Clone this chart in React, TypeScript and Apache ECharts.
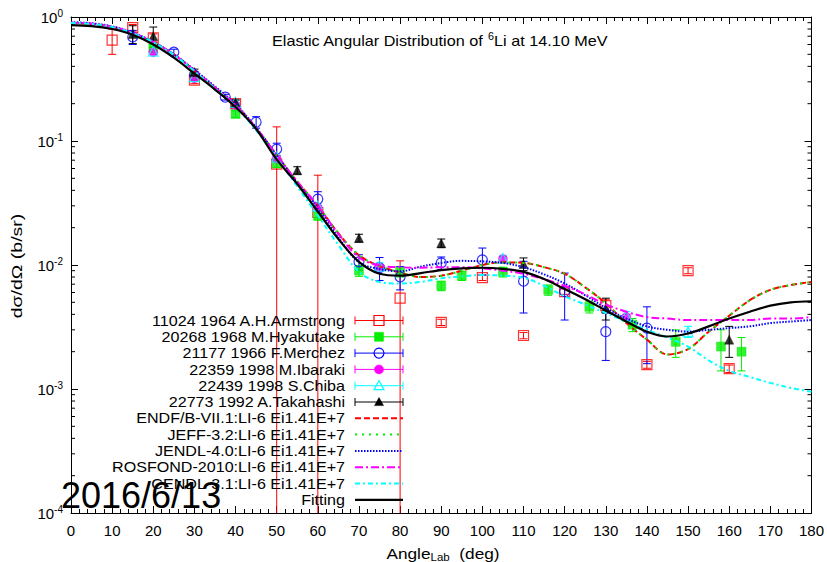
import React, { useEffect, useRef } from "react";
import * as echarts from "echarts";

const FONT = "'Liberation Sans', Arial, Helvetica, sans-serif";

// Measured elastic cross sections: [angle (deg), dσ/dΩ (b/sr), uncertainty (b/sr)]
const armstrong = [
  [10, 0.65, 0.15], [15, 0.82, 0.05], [20, 0.68, 0.05], [30, 0.31, 0.02], [40, 0.2, 0.012],
  [50, 0.065, 0.065], [60, 0.0265, 0.0265], [80, 0.0054, 0.0054], [90, 0.00345, 0.0002],
  [100, 0.0079, 0.0004], [110, 0.0027, 0.00016], [120, 0.0061, 0.0003], [130, 0.0047, 0.0006],
  [140, 0.00157, 0.0001], [150, 0.009, 0.0005], [160, 0.00146, 0.0001],
];
const hyakutake = [
  [20, 0.56, 0.04], [30, 0.33, 0.02], [40, 0.165, 0.01], [50, 0.066, 0.005], [60, 0.025, 0.002],
  [70, 0.009, 0.0009], [80, 0.0088, 0.0008], [90, 0.0068, 0.0006], [95, 0.0082, 0.0007],
  [105, 0.0088, 0.0008], [116, 0.0063, 0.0006], [126, 0.0046, 0.0005], [136.5, 0.0033, 0.0004],
  [147, 0.0024, 0.0006], [158, 0.0022, 0.0008], [163, 0.002, 0.0006],
];
const merchez = [
  [15, 0.69, 0.09], [25, 0.52, 0.03], [30, 0.34, 0.02], [37.5, 0.226, 0.012], [45, 0.142, 0.015],
  [50, 0.086, 0.01], [60, 0.034, 0.005], [70, 0.0106, 0.0015], [75, 0.0095, 0.002],
  [80, 0.008, 0.0017], [90, 0.0104, 0.0012], [100, 0.011, 0.0027], [110, 0.0074, 0.0033],
  [120, 0.0061, 0.0025], [130, 0.0029, 0.0012], [140, 0.0031, 0.0015],
];
const ibaraki = [
  [20, 0.52, 0.02], [30, 0.32, 0.012], [40, 0.195, 0.008], [50, 0.072, 0.003], [60, 0.029, 0.0012],
  [75, 0.0096, 0.0004], [105, 0.0112, 0.0005], [135, 0.0038, 0.0002],
];
const chiba = [
  [20, 0.53, 0.02], [30, 0.33, 0.012], [40, 0.205, 0.008], [50, 0.074, 0.003], [60, 0.03, 0.0012],
  [75, 0.0098, 0.0006], [105, 0.0113, 0.0006], [135, 0.0039, 0.0003], [150, 0.0029, 0.0003],
];
const takahashi = [
  [15, 0.73, 0.12], [20, 0.7, 0.13], [30, 0.36, 0.02], [40, 0.205, 0.01], [55, 0.058, 0.004],
  [70, 0.0165, 0.0012], [90, 0.015, 0.0012], [110, 0.0102, 0.0012], [130, 0.0045, 0.0009],
  [160, 0.0025, 0.0007],
];

// Evaluated libraries and the fit, sampled every 5 degrees
const curveAngles = [
  0, 5, 10, 15, 20, 25, 30, 35, 40, 45, 50, 55, 60, 65, 70, 75, 80, 85, 90,
  95, 100, 105, 110, 115, 120, 125, 130, 135, 140, 145, 150, 155, 160, 165, 170, 175, 180,
];
const endf = [
  0.895, 0.88, 0.83, 0.74, 0.625, 0.5, 0.37, 0.27, 0.195, 0.127, 0.077, 0.047, 0.03, 0.018, 0.012,
  0.0098, 0.0087, 0.008, 0.0082, 0.009, 0.01, 0.0105, 0.0104, 0.0096, 0.0085, 0.0066, 0.0049,
  0.0034, 0.0025, 0.0019, 0.0021, 0.0029, 0.0039, 0.0052, 0.0063, 0.0069, 0.0073,
];
const jeff = [
  0.895, 0.88, 0.83, 0.74, 0.625, 0.5, 0.37, 0.27, 0.195, 0.127, 0.077, 0.047, 0.03, 0.018, 0.012,
  0.0098, 0.0087, 0.008, 0.0082, 0.009, 0.01, 0.0105, 0.0104, 0.0096, 0.0085, 0.0066, 0.0049,
  0.0034, 0.0025, 0.0019, 0.0021, 0.0029, 0.0039, 0.0052, 0.0063, 0.0069, 0.0073,
];
const jendl = [
  0.91, 0.89, 0.84, 0.75, 0.63, 0.5, 0.375, 0.275, 0.198, 0.128, 0.077, 0.046, 0.029, 0.0167, 0.0105,
  0.0093, 0.0089, 0.0097, 0.0104, 0.0108, 0.0107, 0.0104, 0.0096, 0.0084, 0.0071, 0.0057, 0.0045,
  0.0037, 0.0032, 0.003, 0.0029, 0.003, 0.0031, 0.0032, 0.0034, 0.0035, 0.0036,
];
const rosfond = [
  0.9, 0.885, 0.835, 0.745, 0.63, 0.5, 0.37, 0.27, 0.195, 0.127, 0.077, 0.047, 0.03, 0.0178, 0.0115,
  0.0099, 0.0096, 0.0095, 0.0096, 0.0096, 0.0094, 0.009, 0.0085, 0.0077, 0.0068, 0.0058, 0.0048,
  0.0042, 0.0038, 0.0037, 0.0036, 0.0036, 0.0036, 0.0036, 0.0037, 0.0037, 0.0038,
];
const cendl = [
  0.895, 0.88, 0.83, 0.74, 0.625, 0.495, 0.365, 0.265, 0.19, 0.122, 0.073, 0.043, 0.025, 0.0145,
  0.0088, 0.0073, 0.0071, 0.0073, 0.0078, 0.0081, 0.0083, 0.0082, 0.0079, 0.0068, 0.0056, 0.0048,
  0.0041, 0.0035, 0.003, 0.0026, 0.0022, 0.0017, 0.0014, 0.00125, 0.00112, 0.00102, 0.00095,
];
const fitting = [
  0.86, 0.845, 0.8, 0.72, 0.6, 0.47, 0.35, 0.26, 0.188, 0.125, 0.071, 0.045, 0.027, 0.0162, 0.0106,
  0.0085, 0.0082, 0.0086, 0.0091, 0.0094, 0.0095, 0.0093, 0.0088, 0.0077, 0.0064, 0.0053, 0.0043,
  0.0035, 0.0029, 0.00265, 0.0028, 0.0032, 0.0037, 0.0042, 0.0047, 0.005, 0.0051,
];

const Y_MIN = 1e-4;
const Y_MAX = 1;

const experiments = [
  { name: "11024 1964 A.H.Armstrong", points: armstrong, color: "#ff0000", symbol: "rect", filled: false, size: 10 },
  { name: "20268 1968 M.Hyakutake", points: hyakutake, color: "#00ee00", symbol: "rect", filled: true, size: 9 },
  { name: "21177 1966 F.Merchez", points: merchez, color: "#0000ff", symbol: "circle", filled: false, size: 10 },
  { name: "22359 1998 M.Ibaraki", points: ibaraki, color: "#ff00ff", symbol: "circle", filled: true, size: 9 },
  { name: "22439 1998 S.Chiba", points: chiba, color: "#00ffff", symbol: "triangle", filled: false, size: 10 },
  { name: "22773 1992 A.Takahashi", points: takahashi, color: "#000000", symbol: "triangle", filled: true, size: 9 },
];

const evaluations = [
  { name: "ENDF/B-VII.1:LI-6 Ei1.41E+7", values: endf, color: "#ff0000", dash: [6, 3], width: 2 },
  { name: "JEFF-3.2:LI-6 Ei1.41E+7", values: jeff, color: "#00ee00", dash: [2, 5], width: 2 },
  { name: "JENDL-4.0:LI-6 Ei1.41E+7", values: jendl, color: "#0000ff", dash: [1.5, 1.5], width: 2 },
  { name: "ROSFOND-2010:LI-6 Ei1.41E+7", values: rosfond, color: "#ff00ff", dash: [8, 3, 2, 3], width: 2 },
  { name: "CENDL-3.1:LI-6 Ei1.41E+7", values: cendl, color: "#00ffff", dash: [5, 3, 2, 3], width: 2 },
  { name: "Fitting", values: fitting, color: "#000000", dash: "solid", width: 2.2 },
];

// log-axis minor tick values (2..9 x each decade)
const minorTickValues: number[] = [];
for (let e = -4; e < 0; e++) {
  for (let m = 2; m <= 9; m++) minorTickValues.push(m * Math.pow(10, e));
}

const CAP = 4;

function errorBarSeries(exp: any) {
  const data = exp.points.map((p: number[]) => {
    const lo = p[1] - p[2];
    return [p[0], lo > Y_MIN ? lo : Y_MIN, p[1] + p[2], lo > Y_MIN ? 1 : 0];
  });
  return {
    type: "custom",
    name: exp.name + " err",
    silent: true,
    clip: true,
    encode: { x: 0, y: [1, 2] },
    data,
    renderItem: (params: any, api: any) => {
      const x = api.value(0);
      const top = api.coord([x, api.value(2)]);
      const bot = api.coord([x, api.value(1)]);
      const style = { stroke: exp.color, lineWidth: 1, fill: "none" };
      const children: any[] = [
        { type: "line", shape: { x1: top[0], y1: top[1], x2: bot[0], y2: bot[1] }, style },
        { type: "line", shape: { x1: top[0] - CAP, y1: top[1], x2: top[0] + CAP, y2: top[1] }, style },
      ];
      if (api.value(3) === 1) {
        children.push({ type: "line", shape: { x1: bot[0] - CAP, y1: bot[1], x2: bot[0] + CAP, y2: bot[1] }, style });
      }
      return { type: "group", children };
    },
  };
}

function markerSeries(exp: any) {
  return {
    type: "scatter",
    name: exp.name,
    symbol: exp.symbol,
    symbolSize: exp.size,
    data: exp.points.map((p: number[]) => [p[0], p[1]]),
    itemStyle: exp.filled
      ? { color: exp.color, borderColor: exp.color, borderWidth: 0.5 }
      : { color: "rgba(0,0,0,0)", borderColor: exp.color, borderWidth: 1.2 },
    emphasis: { disabled: true },
  };
}

function curveSeries(ev: any) {
  return {
    type: "line",
    name: ev.name,
    showSymbol: false,
    symbol: "none",
    smooth: 0.35,
    data: curveAngles.map((a, i) => [a, ev.values[i]]),
    lineStyle: { color: ev.color, width: ev.width, type: ev.dash },
    emphasis: { disabled: true },
  };
}

// key drawn as graphic elements: right-aligned label, sample to its right
const KEY_TEXT_X = 345;
const KEY_X0 = 355;
const KEY_X1 = 403;
const KEY_Y0 = 320.5;
const KEY_DY = 16.3;

function keyMarker(exp: any, cx: number, cy: number) {
  const fill = exp.filled ? exp.color : "none";
  const style = { fill, stroke: exp.color, lineWidth: exp.filled ? 0.5 : 1.2 };
  const h = exp.size / 2;
  if (exp.symbol === "rect") return { type: "rect", shape: { x: cx - h, y: cy - h, width: 2 * h, height: 2 * h }, style };
  if (exp.symbol === "circle") return { type: "circle", shape: { cx, cy, r: h }, style };
  return { type: "polygon", shape: { points: [[cx, cy - h], [cx + h, cy + h * 0.8], [cx - h, cy + h * 0.8]] }, style };
}

function keyElements() {
  const els: any[] = [];
  const rows = [...experiments.map((e) => ({ kind: "exp", item: e })), ...evaluations.map((e) => ({ kind: "ev", item: e }))];
  rows.forEach((row, i) => {
    const cy = KEY_Y0 + i * KEY_DY;
    els.push({
      type: "text",
      x: KEY_TEXT_X,
      y: cy,
      scaleX: 1.15,
      z: 100,
      style: {
        text: row.item.name,
        fill: "#000",
        fontSize: 14,
        fontFamily: FONT,
        align: "right",
        textAlign: "right",
        verticalAlign: "middle",
        textVerticalAlign: "middle",
      },
    });
    const c = row.item.color;
    if (row.kind === "exp") {
      const s = { stroke: c, lineWidth: 1 };
      els.push({ type: "line", z: 100, shape: { x1: KEY_X0, y1: cy, x2: KEY_X1, y2: cy }, style: s });
      els.push({ type: "line", z: 100, shape: { x1: KEY_X0, y1: cy - CAP, x2: KEY_X0, y2: cy + CAP }, style: s });
      els.push({ type: "line", z: 100, shape: { x1: KEY_X1, y1: cy - CAP, x2: KEY_X1, y2: cy + CAP }, style: s });
      els.push({ ...keyMarker(row.item, (KEY_X0 + KEY_X1) / 2, cy), z: 101 });
    } else {
      const ev: any = row.item;
      els.push({
        type: "line",
        z: 100,
        shape: { x1: KEY_X0, y1: cy, x2: KEY_X1, y2: cy },
        style: { stroke: c, lineWidth: ev.width, lineDash: ev.dash === "solid" ? null : ev.dash },
      });
    }
  });
  return els;
}

export default function App() {
  const ref = useRef<HTMLDivElement>(null);

  useEffect(() => {
    document.body.style.margin = "0";
    if (!ref.current) return;
    const chart = echarts.init(ref.current, undefined, { renderer: "svg" });

    const xAxisBase = {
      type: "value",
      min: 0,
      max: 180,
      interval: 10,
      axisLine: { show: true, onZero: false, lineStyle: { color: "#000", width: 1 } },
      axisTick: { show: true, inside: true, length: 7, lineStyle: { color: "#000", width: 1 } },
      minorTick: { show: true, splitNumber: 5, length: 4, lineStyle: { color: "#000", width: 1 } },
      splitLine: { show: false },
    };
    const yAxisBase = {
      type: "log",
      logBase: 10,
      min: Y_MIN,
      max: Y_MAX,
      axisLine: { show: true, onZero: false, lineStyle: { color: "#000", width: 1 } },
      axisTick: { show: true, inside: true, length: 7, lineStyle: { color: "#000", width: 1 } },
      splitLine: { show: false },
    };

    const option: any = {
      animation: false,
      backgroundColor: "#ffffff",
      grid: { left: 71, right: 15, top: 17, bottom: 49, containLabel: false },
      xAxis: [
        {
          ...xAxisBase,
          position: "bottom",
          axisLabel: { color: "#000", fontSize: 15, fontFamily: FONT, margin: 10 },
        },
        { ...xAxisBase, position: "top", axisLabel: { show: false } },
      ],
      yAxis: [
        {
          ...yAxisBase,
          position: "left",
          axisLabel: {
            color: "#000",
            margin: 8,
            formatter: (v: number) => `{b|10}{s|${Math.round(Math.log10(v))}}`,
            rich: {
              b: { fontSize: 15, fontFamily: FONT, color: "#000", lineHeight: 18 },
              s: { fontSize: 10, fontFamily: FONT, color: "#000", verticalAlign: "top", lineHeight: 10 },
            },
          },
        },
        { ...yAxisBase, position: "right", axisLabel: { show: false } },
      ],
      series: [
        {
          type: "custom",
          name: "minor ticks",
          silent: true,
          encode: { x: 0, y: 1 },
          data: minorTickValues.map((v) => [0, v]),
          renderItem: (params: any, api: any) => {
            const l = api.coord([0, api.value(1)]);
            const r = api.coord([180, api.value(1)]);
            const style = { stroke: "#000", lineWidth: 1 };
            return {
              type: "group",
              children: [
                { type: "line", shape: { x1: l[0], y1: l[1], x2: l[0] + 4, y2: l[1] }, style },
                { type: "line", shape: { x1: r[0] - 4, y1: r[1], x2: r[0], y2: r[1] }, style },
              ],
            };
          },
        },
        ...experiments.map(errorBarSeries),
        ...experiments.map(markerSeries),
        ...evaluations.map(curveSeries),
      ],
      graphic: [
        {
          type: "text",
          x: 272,
          y: 41,
          scaleX: 1.08,
          style: {
            text: "{a|Elastic Angular Distribution of }{s|6}{a|Li at 14.10 MeV}",
            verticalAlign: "middle",
            textVerticalAlign: "middle",
            rich: {
              a: { fontSize: 15, fontFamily: FONT, fill: "#000", lineHeight: 18 },
              s: { fontSize: 10, fontFamily: FONT, fill: "#000", verticalAlign: "top", lineHeight: 10 },
            },
          },
        },
        {
          type: "text",
          x: 17,
          y: 266,
          rotation: Math.PI / 2,
          scaleX: 1.3,
          style: {
            text: "dσ/dΩ (b/sr)",
            fill: "#000",
            fontSize: 15,
            fontFamily: FONT,
            align: "center",
            textAlign: "center",
            verticalAlign: "middle",
            textVerticalAlign: "middle",
          },
        },
        {
          type: "text",
          x: 443,
          y: 553,
          scaleX: 1.15,
          style: {
            text: "{a|Angle}{u|Lab}{a|  (deg)}",
            align: "center",
            textAlign: "center",
            verticalAlign: "middle",
            textVerticalAlign: "middle",
            rich: {
              a: { fontSize: 15, fontFamily: FONT, fill: "#000", lineHeight: 18 },
              u: { fontSize: 10, fontFamily: FONT, fill: "#000", verticalAlign: "bottom", lineHeight: 10 },
            },
          },
        },
        ...keyElements(),
        {
          type: "text",
          x: 61,
          y: 513,
          z: 200,
          style: {
            text: "2016/6/13",
            fill: "#000",
            fontSize: 36,
            fontFamily: FONT,
            align: "left",
            textAlign: "left",
            verticalAlign: "bottom",
            textVerticalAlign: "bottom",
          },
        },
      ],
    };

    chart.setOption(option);
    return () => chart.dispose();
  }, []);

  return (
    <div
      ref={ref}
      style={{ position: "absolute", left: 0, top: 0, width: 827, height: 562, background: "#fff" }}
    />
  );
}
